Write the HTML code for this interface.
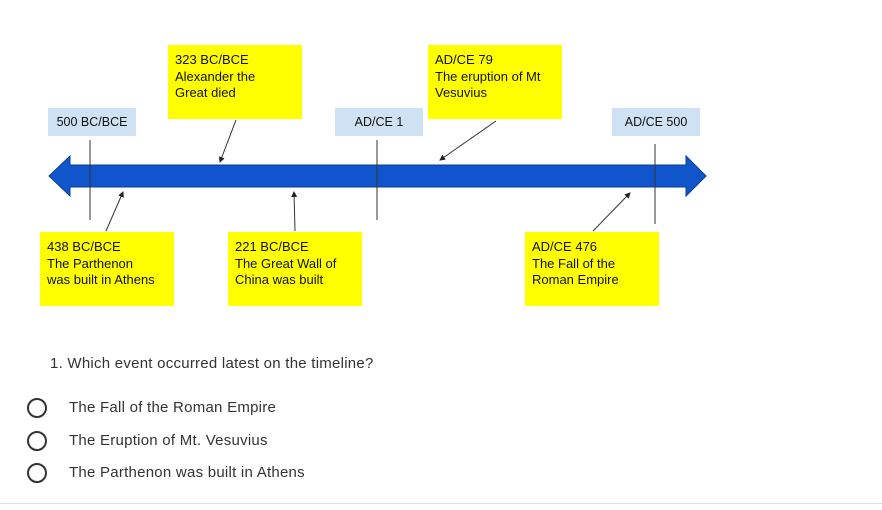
<!DOCTYPE html>
<html><head><style>
body{margin:0;width:882px;height:510px;background:#fff;position:relative;overflow:hidden;font-family:"Liberation Sans",sans-serif}
.b{position:absolute;font-size:13px;line-height:16.5px;color:#111}
.y{background:#ffff00;padding:7px 7px;box-sizing:border-box;width:134px;height:74px}
.l{background:#cfe2f3;height:28px;line-height:28px;text-align:center;font-size:12.5px;width:88px}
.q{position:absolute;font-size:15px;letter-spacing:0.25px;color:#333}
.r{position:absolute;left:27px;width:16px;height:16px;border:2px solid #333;border-radius:50%}
</style></head><body>
<svg width="882" height="510" style="position:absolute;left:0;top:0">
<defs><marker id="a" markerWidth="6" markerHeight="6" refX="5" refY="3" orient="auto"><path d="M0,0 L6,3 L0,6z" fill="#222"/></marker></defs>
<polygon points="49,176 70,156 70,165 686,165 686,156 706,176 686,196 686,187 70,187 70,196" fill="#1155cc" stroke="#0b3d91" stroke-width="1"/>
<g stroke="#333" stroke-width="1">
<line x1="90" y1="140" x2="90" y2="220"/>
<line x1="377" y1="140" x2="377" y2="220"/>
<line x1="655" y1="144" x2="655" y2="224"/>
<line x1="236" y1="120" x2="220" y2="162" marker-end="url(#a)"/>
<line x1="496" y1="121" x2="440" y2="160" marker-end="url(#a)"/>
<line x1="106" y1="231" x2="123" y2="192" marker-end="url(#a)"/>
<line x1="295" y1="231" x2="294" y2="192" marker-end="url(#a)"/>
<line x1="593" y1="231" x2="630" y2="193" marker-end="url(#a)"/>
</g>
<line x1="0" y1="503.5" x2="882" y2="503.5" stroke="#ddd"/>
</svg>
<div class="b l" style="left:48px;top:108px">500 BC/BCE</div>
<div class="b l" style="left:335px;top:108px">AD/CE 1</div>
<div class="b l" style="left:612px;top:108px">AD/CE 500</div>
<div class="b y" style="left:168px;top:45px">323 BC/BCE<br>Alexander the<br>Great died</div>
<div class="b y" style="left:428px;top:45px">AD/CE 79<br>The eruption of Mt<br>Vesuvius</div>
<div class="b y" style="left:40px;top:232px">438 BC/BCE<br>The Parthenon<br>was built in Athens</div>
<div class="b y" style="left:228px;top:232px">221 BC/BCE<br>The Great Wall of<br>China was built</div>
<div class="b y" style="left:525px;top:232px">AD/CE 476<br>The Fall of the<br>Roman Empire</div>
<div class="q" style="left:50px;top:355px">1. Which event occurred latest on the timeline?</div>
<div class="r" style="top:398px"></div><div class="q" style="left:69px;top:399px">The Fall of the Roman Empire</div>
<div class="r" style="top:431px"></div><div class="q" style="left:69px;top:432px">The Eruption of Mt. Vesuvius</div>
<div class="r" style="top:463px"></div><div class="q" style="left:69px;top:464px">The Parthenon was built in Athens</div>
</body></html>
